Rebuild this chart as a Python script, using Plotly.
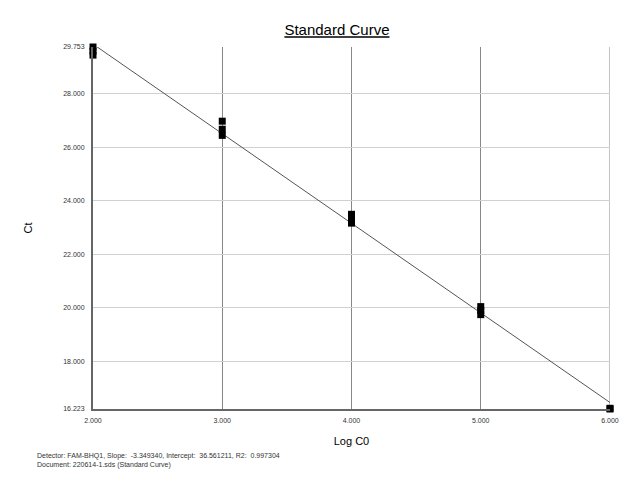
import plotly.graph_objects as go

# Log C0 values and measured Ct (three replicates per standard)
log_c0 = [2, 2, 2, 3, 3, 3, 4, 4, 4, 5, 5, 5, 6, 6]
ct = [29.753, 29.60, 29.45, 26.98, 26.68, 26.45, 23.50, 23.35, 23.17,
      20.05, 19.90, 19.75, 16.223, 16.25]

slope = -3.349340
intercept = 36.561211
r2 = 0.997304

x_ticks = [2, 3, 4, 5, 6]
x_ticktext = ["2.000", "3.000", "4.000", "5.000", "6.000"]
y_ticks = [16.223, 18, 20, 22, 24, 26, 28, 29.753]
y_ticktext = ["16.223", "18.000", "20.000", "22.000", "24.000", "26.000", "28.000", "29.753"]

fit_x = [2, 6]
fit_y = [intercept + slope * v for v in fit_x]

fig = go.Figure()

# regression line
fig.add_trace(go.Scatter(
    x=fit_x, y=fit_y, mode='lines',
    line=dict(color='#555555', width=1),
    hoverinfo='skip', showlegend=False
))

# standards
fig.add_trace(go.Scatter(
    x=log_c0, y=ct, mode='markers',
    marker=dict(symbol='square', size=7, color='black'),
    cliponaxis=False, showlegend=False
))

fig.update_layout(
    width=640, height=500,
    margin=dict(l=85, r=38, t=39, b=99),
    paper_bgcolor='white', plot_bgcolor='white',
    font=dict(family="Arial, Liberation Sans, sans-serif", color='#222222'),
    title=dict(text="<u>Standard Curve</u>", x=0.514, xanchor='center',
               y=0.956, yanchor='middle', font=dict(size=15, color='black')),
    xaxis=dict(
        range=[2, 6], tickvals=x_ticks, ticktext=x_ticktext,
        tickfont=dict(size=7, color='#333333'), ticks='', ticklabelstandoff=4,
        showgrid=True, gridcolor='#888888', gridwidth=1,
        showline=True, linecolor='#666666', linewidth=2,
        zeroline=False,
        title=dict(text="Log C0", font=dict(size=11, color='black'), standoff=14)
    ),
    yaxis=dict(
        range=[16.223, 29.753], tickvals=y_ticks, ticktext=y_ticktext,
        tickfont=dict(size=7, color='#333333'), ticks='', ticklabelstandoff=5,
        showgrid=True, gridcolor='#d0d0d0', gridwidth=1,
        showline=True, linecolor='#666666', linewidth=2,
        zeroline=False,
        title=dict(text="Ct", font=dict(size=11, color='black'), standoff=28)
    ),
)

# gridline at the right edge (x = 6) that plotly skips
fig.add_shape(type='line', xref='x', yref='paper', x0=6, x1=6, y0=0, y1=1,
              line=dict(color='#888888', width=1), layer='below')

fig.add_annotation(
    xref='paper', yref='paper', x=-0.112, y=-0.113,
    xanchor='left', yanchor='top', align='left', showarrow=False,
    text=(f"Detector: FAM-BHQ1, Slope:  {slope:.6f}, Intercept:  {intercept:.6f}, R2:  {r2:.6f}"
          "<br>Document: 220614-1.sds (Standard Curve)"),
    font=dict(size=7, color='#333333')
)

fig.write_html("out.html")
